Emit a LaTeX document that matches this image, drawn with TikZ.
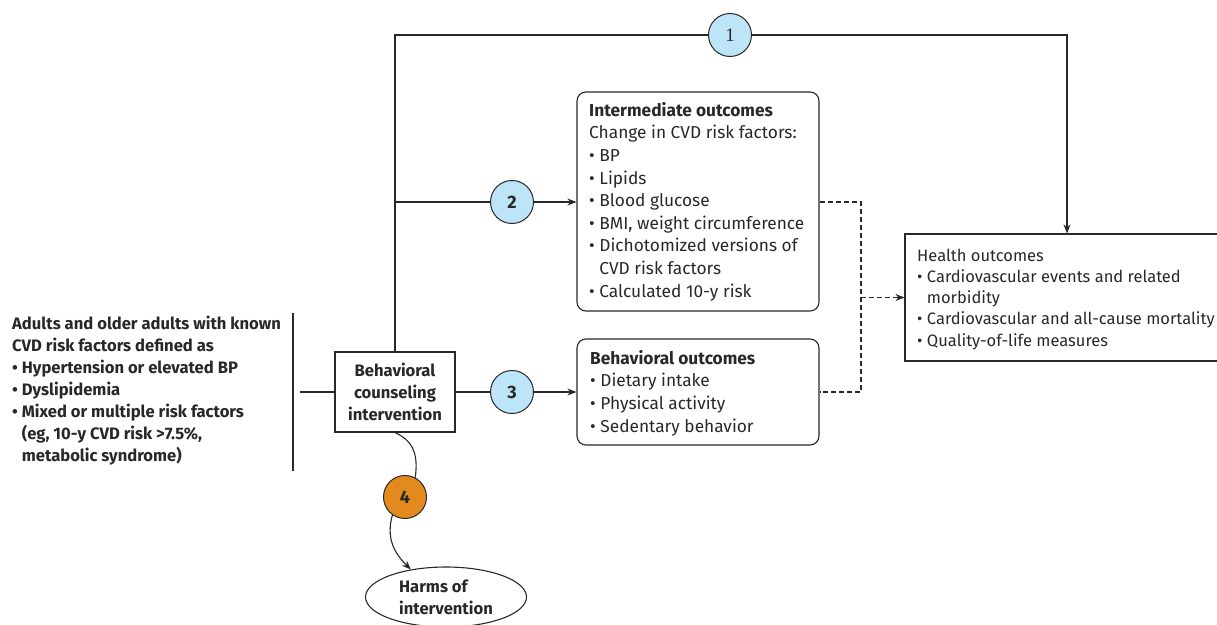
\documentclass[tikz,border=0pt]{standalone}
\usepackage{fontspec}
\setmainfont{Fira Sans}
\newfontfamily\numserif{Liberation Serif}
\usetikzlibrary{arrows.meta,shapes.geometric}
\definecolor{cblue}{RGB}{190,228,248}
\definecolor{corange}{RGB}{226,138,30}
\definecolor{ln}{RGB}{40,40,40}
\newcommand{\fs}{\fontsize{17.3}{22.6}\selectfont}
\newcommand{\fsb}{\fontsize{16.6}{22}\selectfont\bfseries}
\newcommand{\bu}{\textbullet\ }
\begin{document}
\begin{tikzpicture}[x=1pt,y=-1pt,
 every node/.style={font=\fs, text=ln},
 line/.style={draw=ln, line width=1.1pt},
 arr/.style={line, -{Stealth[length=9pt,width=7pt]}},
 dsh/.style={line, dash pattern=on 5pt off 3pt},
 num/.style={circle, draw=ln, line width=1pt, fill=cblue, minimum size=43pt, inner sep=0pt, font=\fontsize{18}{18}\selectfont\bfseries},
 sqbox/.style={draw=ln, line width=1.1pt, rectangle, inner sep=0pt},
 rbox/.style={sqbox, rounded corners=9pt},
 txt/.style={inner sep=0pt, align=left, anchor=north west},
]
\useasboundingbox (0,0) rectangle (1217,624);
\clip (0,0) rectangle (1217,624);

% population
\node[txt, font=\fsb] (pop) at (12,316) {Adults and older adults with known\\CVD risk factors defined as\\\bu Hypertension or elevated BP\\\bu Dyslipidemia\\\bu Mixed or multiple risk factors\\\hphantom{\bu}(eg, 10-y CVD risk >7.5\%,\\\hphantom{\bu}metabolic syndrome)};
\coordinate (popT) at (293,313);
\coordinate (popB) at (293,471);
\draw[line] (popT) -- (popB);
\coordinate (popout) at (300,392);

% intervention
\node[sqbox, minimum width=120pt, minimum height=80pt, align=center, font=\fsb] (bci) at (395,392) {Behavioral\\counseling\\intervention};

% key question circles
\node[num] (c1) at (730,35) {\mdseries\numserif\fontsize{19}{19}\selectfont 1};
\node[num] (c2) at (512,202) {2};
\node[num] (c3) at (512,392) {3};
\node[num, fill=corange] (c4) at (405,497) {4};

% outcome boxes
\node[rbox, minimum width=242pt, minimum height=219pt] (inter) at (698,201.5) {};
\node[txt] (intertxt) at (589,102) {\textbf{Intermediate outcomes}\\Change in CVD risk factors:\\\bu BP\\\bu Lipids\\\bu Blood glucose\\\bu BMI, weight circumference\\\bu Dichotomized versions of\\\hphantom{\bu}CVD risk factors\\\bu Calculated 10-y risk};

\node[rbox, minimum width=242pt, minimum height=106pt] (behav) at (698,392) {};
\node[txt] (behavtxt) at (590,350) {\textbf{Behavioral outcomes}\\\bu Dietary intake\\\bu Physical activity\\\bu Sedentary behavior};

\node[sqbox, minimum width=335pt, minimum height=127pt] (health) at (1072.5,297.5) {};
\node[txt, font=\fontsize{16.5}{21.3}\selectfont] (healthtxt) at (917,248.5) {Health outcomes\\\bu Cardiovascular events and related\\\hphantom{\bu}morbidity\\\bu Cardiovascular and all-cause mortality\\\bu Quality-of-life measures};

\node[ellipse, draw=ln, line width=1.1pt, minimum width=161pt, minimum height=60pt, inner sep=0pt, align=left, font=\fsb] (harms) at (446,597) {Harms of\\intervention};

% connectors
\draw[line] (popout) -- (bci.west);
\draw[line] (bci.north) |- (c1.west);
\coordinate (hx) at (1067,35);
\draw[arr] (c1.east) -| (hx |- health.north);
\coordinate (b2) at (bci.north |- c2);
\draw[line] (b2) -- (c2.west);
\draw[arr] (c2.east) -- (c2.east -| inter.west);
\draw[line] (bci.east) -- (c3.west);
\draw[arr] (c3.east) -- (behav.west);
\coordinate (dx) at (861,297.5);
\draw[dsh] (c2 -| inter.east) -- (c2 -| dx) -- (c3 -| dx) -- (behav.east);
\draw[dsh, -{Stealth[length=9pt,width=7pt]}] (dx) -- (health.west);
\draw[line] (bci.south) .. controls +(22,10) and +(2,-18) .. (c4.62);
\draw[arr] (c4.235) .. controls +(-6,22) and +(-18,-18) .. (harms.142);
\end{tikzpicture}
\end{document}
